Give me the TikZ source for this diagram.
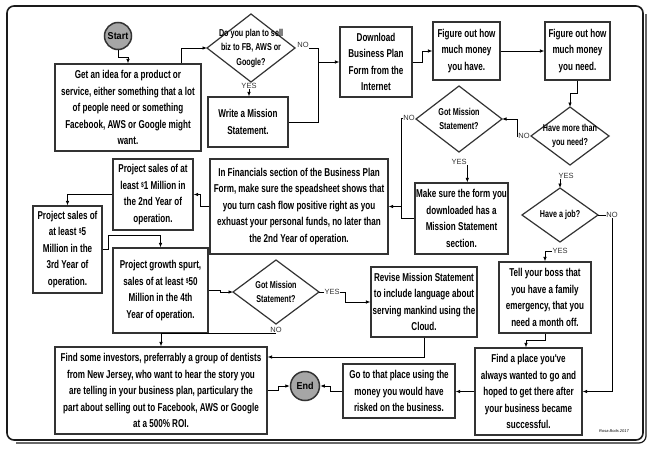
\documentclass[tikz,border=0pt]{standalone}
\usepackage{fontspec}
\setmainfont{Liberation Sans}
\newfontfamily\handfont{Liberation Sans}[FakeStretch=0.71]
\newfontfamily\diafont{Liberation Sans}[FakeStretch=0.72]
\newfontfamily\circfont{Liberation Sans}[FakeStretch=0.9]
\usetikzlibrary{shapes.geometric,arrows.meta}
\definecolor{boxc}{HTML}{333333}
\definecolor{termc}{HTML}{A6A6A6}
\definecolor{ync}{HTML}{333333}
\definecolor{framec}{HTML}{1A1A1A}
\newcommand\mydollar{\raisebox{2.2pt}{\fontsize{7}{7}\selectfont\$}}
\begin{document}
\begin{tikzpicture}[x=1pt,y=-1pt,
  box/.style={draw=boxc, line width=1.2pt, inner sep=0pt, align=center,
    font=\handfont\bfseries\fontsize{11.4}{16.5}\selectfont},
  dia/.style={draw=boxc, line width=1.2pt, diamond, inner sep=0pt, outer sep=0pt},
  dlab/.style={align=center, inner sep=0pt,
    font=\diafont\bfseries\fontsize{10}{14.5}\selectfont},
  term/.style={circle, draw=boxc, line width=1.5pt, fill=termc, inner sep=0pt,
    font=\circfont\bfseries\fontsize{10}{12}\selectfont},
  conn/.style={draw=black, line width=0.8pt, -{Latex[length=4.5pt,width=3.6pt]}},
  link/.style={draw=black, line width=0.8pt},
  yn/.style={font=\fontsize{7.5}{8}\selectfont, text=ync, inner sep=0.6pt},
]
\useasboundingbox (0,0) rectangle (650,450);
\fill[white] (0,0) rectangle (650,450);

% frame
\draw[framec, line width=1.6pt, rounded corners=7pt] (7,6) rectangle (643,440);
\draw[framec, line width=1.2pt, rounded corners=7pt] (646,14) -- (646,443) -- (16,443);

% terminals
\node[term, minimum size=27pt] (start) at (118,36) {Start};
\node[term, minimum size=29pt] (endn) at (305,386) {End};

% boxes
\node[box, minimum width=146pt, minimum height=87pt] (idea) at (128,107.5)
  {Get an idea for a product or\\service, either something that a lot\\of people need or something\\Facebook, AWS or Google might\\want.};
\node[box, minimum width=80pt, minimum height=50pt] (write) at (248,122)
  {Write a Mission\\Statement.};
\node[box, minimum width=72pt, minimum height=70pt] (download) at (376,62)
  {Download\\Business Plan\\Form from the\\Internet};
\node[box, minimum width=67pt, minimum height=58pt] (fig1) at (466.5,51)
  {Figure out how\\much money\\you have.};
\node[box, minimum width=65pt, minimum height=58pt] (fig2) at (577.5,51)
  {Figure out how\\much money\\you need.};
\node[box, minimum width=93pt, minimum height=71pt] (makesure) at (461.5,218.5)
  {Make sure the form you\\downloaded has a\\Mission Statement\\section.};
\node[box, minimum width=178pt, minimum height=95pt] (financials) at (299,206.5)
  {In Financials section of the Business Plan\\Form, make sure the speadsheet shows that\\you turn cash flow positive right as you\\exhuast your personal funds, no later than\\the 2nd Year of operation.};
\node[box, minimum width=80pt, minimum height=71pt] (proj1M) at (153,194.5)
  {Project sales of at\\least \mydollar1 Million in\\the 2nd Year of\\operation.};
\node[box, minimum width=69pt, minimum height=87pt] (proj5M) at (67.5,249.5)
  {Project sales of\\at least \mydollar5\\Million in the\\3rd Year of\\operation.};
\node[box, minimum width=95pt, minimum height=85pt] (growth) at (160.5,290.5)
  {Project growth spurt,\\sales of at least \mydollar50\\Million in the 4th\\Year of operation.};
\node[box, minimum width=106pt, minimum height=70pt] (revise) at (424,302)
  {Revise Mission Statement\\to include language about\\serving mankind using the\\Cloud.};
\node[box, minimum width=92pt, minimum height=71pt] (tellboss) at (545,297.5)
  {Tell your boss that\\you have a family\\emergency, that you\\need a month off.};
\node[box, minimum width=107pt, minimum height=87pt] (findplace) at (528.5,391.5)
  {Find a place you've\\always wanted to go and\\hoped to get there after\\your business became\\successful.};
\node[box, minimum width=112pt, minimum height=54pt] (goto) at (399,391)
  {Go to that place using the\\money you would have\\risked on the business.};
\node[box, minimum width=212pt, minimum height=87pt] (investors) at (161,390.5)
  {Find some investors, preferrably a group of dentists\\from New Jersey, who want to hear the story you\\are telling in your business plan, particulary the\\part about selling out to Facebook, AWS or Google\\at a 500\% ROI.};

% decisions
\node[dia, minimum width=88pt, minimum height=68pt] (d1) at (251,48) {};
\node[dlab] (d1t) at (d1) {Do you plan to sell\\biz to FB, AWS or\\Google?};
\node[dia, minimum width=86pt, minimum height=66pt] (d2) at (459,119) {};
\node[dlab] (d2t) at (d2) {Got Mission\\Statement?};
\node[dia, minimum width=78pt, minimum height=58pt] (d3) at (570,136) {};
\node[dlab] (d3t) at (d3) {Have more than\\you need?};
\node[dia, minimum width=76pt, minimum height=54pt] (d4) at (560,215) {};
\node[dlab] (d4t) at (d4) {Have a job?};
\node[dia, minimum width=86pt, minimum height=64pt] (d5) at (276,292) {};
\node[dlab] (d5t) at (d5) {Got Mission\\Statement?};

% yes / no labels
\node[yn] (no1) at (303,45) {NO};
\node[yn] (yes1) at (249,86) {YES};
\node[yn] (no2) at (409,118) {NO};
\node[yn] (yes2) at (459,162) {YES};
\node[yn] (no3) at (524,136) {NO};
\node[yn] (yes3) at (566,176) {YES};
\node[yn] (no4) at (612,215) {NO};
\node[yn] (yes4) at (560,251) {YES};
\node[yn] (yes5) at (332,292) {YES};
\node[yn] (no5) at (276,330) {NO};

% junctions
\coordinate (j1) at (318,62);
\coordinate (j2) at (401,206.5);

% connectors
\draw[conn] (start.south) |- (128,57) -- (128,0 |- idea.north);
\draw[conn] (181,0 |- idea.north) |- (d1.west);
\draw[link] (no1.south east) -| (j1);
\draw[conn] (write.east) -| (j1) -- (download.west);
\draw[conn] (yes1.south) -- (yes1.south |- write.north);
\draw[conn] (download.east) -| (422,51) -- (fig1.west);
\draw[conn] (fig1.east) -- (fig2.west);
\draw[conn] (fig2.south) |- (570,93) -- (d3.north);
\draw[conn] (no3.west) -| (517,119) -- (d2.east);
\draw[conn] (no2.west) -| (j2) -- (financials.east);
\draw[link] (makesure.west) -| (j2);
\draw[conn] (yes2.south east) -- (yes2.south east |- makesure.north);
\draw[conn] (yes3.south -| d4.north) -- (d4.north);
\draw[link] (d4.east) -- (no4.west);
\draw[conn] (no4.south) |- (findplace.east);
\draw[conn] (yes4.west) -| (tellboss.north);
\draw[conn] (tellboss.south) |- (526,340) -- (526,0 |- findplace.north);
\draw[conn] (findplace.west) -- (findplace.west -| goto.east);
\draw[conn] (goto.west) -| (330,386) -- (endn.east);
\draw[conn] (investors.east) -| (278,386) -- (endn.west);
\draw[conn] (revise.south) |- (investors.east |- 0,357);
\draw[link] (d5.east) -- (yes5.west);
\draw[conn] (yes5.east) -| (345,302) -- (revise.west);
\draw[conn] (no5.south) -| (investors.north);
\draw[conn] (growth.east) -| (220,292) -- (d5.west);
\draw[conn] (financials.west) -| (200,194.5) -- (proj1M.east);
\draw[conn] (proj1M.west) -| (proj5M.north);
\draw[conn] (proj5M.east) -| (108,235) -| (growth.north);

% signature
\node[font=\fontsize{4}{4}\selectfont\itshape] (sig) at (614,431) {Rosa Bods 2017};
\end{tikzpicture}
\end{document}
